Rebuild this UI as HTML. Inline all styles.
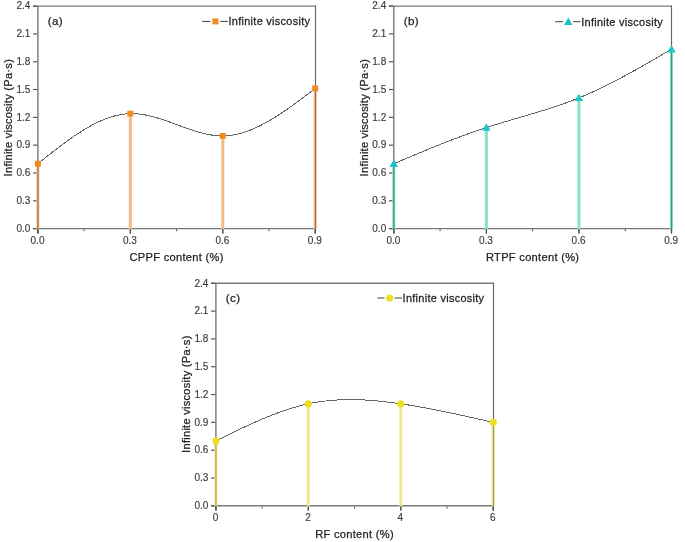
<!DOCTYPE html>
<html><head><meta charset="utf-8"><style>
html,body{margin:0;padding:0;background:#fff;}
body{width:685px;height:542px;overflow:hidden;font-family:"Liberation Sans",sans-serif;}
svg{display:block;}
#w{width:685px;height:542px;will-change:transform;}
</style></head><body><div id="w">
<svg width="685" height="542" viewBox="0 0 685 542" font-family="Liberation Sans, sans-serif"><g><path d="M32.90,6.10 H316.00 M37.90,6.10 V233.40 M32.90,228.60 H315.50" fill="none" stroke="#7a7a7a" stroke-width="1.4"/><path d="M315.50,5.50 V233.40" fill="none" stroke="#666" stroke-width="1.15"/><line x1="33.10" y1="228.60" x2="37.30" y2="228.60" stroke="#555" stroke-width="1.2"/><text transform="translate(30.30,231.90) scale(1.0000,1)" text-anchor="end" font-size="10" fill="#3a3a3a" stroke="#3a3a3a" stroke-width="0.15" >0.0</text><line x1="33.10" y1="200.79" x2="37.30" y2="200.79" stroke="#555" stroke-width="1.2"/><text transform="translate(30.30,204.09) scale(1.0000,1)" text-anchor="end" font-size="10" fill="#3a3a3a" stroke="#3a3a3a" stroke-width="0.15" >0.3</text><line x1="33.10" y1="172.97" x2="37.30" y2="172.97" stroke="#555" stroke-width="1.2"/><text transform="translate(30.30,176.28) scale(1.0000,1)" text-anchor="end" font-size="10" fill="#3a3a3a" stroke="#3a3a3a" stroke-width="0.15" >0.6</text><line x1="33.10" y1="145.16" x2="37.30" y2="145.16" stroke="#555" stroke-width="1.2"/><text transform="translate(30.30,148.46) scale(1.0000,1)" text-anchor="end" font-size="10" fill="#3a3a3a" stroke="#3a3a3a" stroke-width="0.15" >0.9</text><line x1="33.10" y1="117.35" x2="37.30" y2="117.35" stroke="#555" stroke-width="1.2"/><text transform="translate(30.30,120.65) scale(1.0000,1)" text-anchor="end" font-size="10" fill="#3a3a3a" stroke="#3a3a3a" stroke-width="0.15" >1.2</text><line x1="33.10" y1="89.54" x2="37.30" y2="89.54" stroke="#555" stroke-width="1.2"/><text transform="translate(30.30,92.84) scale(1.0000,1)" text-anchor="end" font-size="10" fill="#3a3a3a" stroke="#3a3a3a" stroke-width="0.15" >1.5</text><line x1="33.10" y1="61.72" x2="37.30" y2="61.72" stroke="#555" stroke-width="1.2"/><text transform="translate(30.30,65.02) scale(1.0000,1)" text-anchor="end" font-size="10" fill="#3a3a3a" stroke="#3a3a3a" stroke-width="0.15" >1.8</text><line x1="33.10" y1="33.91" x2="37.30" y2="33.91" stroke="#555" stroke-width="1.2"/><text transform="translate(30.30,37.21) scale(1.0000,1)" text-anchor="end" font-size="10" fill="#3a3a3a" stroke="#3a3a3a" stroke-width="0.15" >2.1</text><line x1="33.10" y1="6.10" x2="37.30" y2="6.10" stroke="#555" stroke-width="1.2"/><text transform="translate(30.30,9.40) scale(1.0000,1)" text-anchor="end" font-size="10" fill="#3a3a3a" stroke="#3a3a3a" stroke-width="0.15" >2.4</text><line x1="37.90" y1="229.20" x2="37.90" y2="233.40" stroke="#555" stroke-width="1.2"/><line x1="84.12" y1="229.20" x2="84.12" y2="231.30" stroke="#555" stroke-width="1.1"/><text transform="translate(37.50,244.00) scale(1.0000,1)" text-anchor="middle" font-size="10" fill="#3a3a3a" stroke="#3a3a3a" stroke-width="0.15" >0.0</text><line x1="130.33" y1="229.20" x2="130.33" y2="233.40" stroke="#555" stroke-width="1.2"/><line x1="176.55" y1="229.20" x2="176.55" y2="231.30" stroke="#555" stroke-width="1.1"/><text transform="translate(129.93,244.00) scale(1.0000,1)" text-anchor="middle" font-size="10" fill="#3a3a3a" stroke="#3a3a3a" stroke-width="0.15" >0.3</text><line x1="222.77" y1="229.20" x2="222.77" y2="233.40" stroke="#555" stroke-width="1.2"/><line x1="268.98" y1="229.20" x2="268.98" y2="231.30" stroke="#555" stroke-width="1.1"/><text transform="translate(222.37,244.00) scale(1.0000,1)" text-anchor="middle" font-size="10" fill="#3a3a3a" stroke="#3a3a3a" stroke-width="0.15" >0.6</text><line x1="315.20" y1="229.20" x2="315.20" y2="233.40" stroke="#555" stroke-width="1.2"/><text transform="translate(314.80,244.00) scale(1.0000,1)" text-anchor="middle" font-size="10" fill="#3a3a3a" stroke="#3a3a3a" stroke-width="0.15" >0.9</text><line x1="37.90" y1="163.70" x2="37.90" y2="229.10" stroke="#f2bc8a" stroke-width="3.0"/><line x1="130.33" y1="113.64" x2="130.33" y2="229.10" stroke="#f2bc8a" stroke-width="3.0"/><line x1="222.77" y1="135.89" x2="222.77" y2="229.10" stroke="#f2bc8a" stroke-width="3.0"/><line x1="315.20" y1="88.33" x2="315.20" y2="229.10" stroke="#f2bc8a" stroke-width="3.0"/><line x1="37.90" y1="163.70" x2="37.90" y2="229.30" stroke="#b67d4e" stroke-width="1.4"/><line x1="315.50" y1="88.33" x2="315.50" y2="229.20" stroke="#a87048" stroke-width="1.15"/><line x1="37.90" y1="229.30" x2="37.90" y2="233.40" stroke="#555" stroke-width="1.2"/><line x1="130.33" y1="229.30" x2="130.33" y2="233.40" stroke="#555" stroke-width="1.2"/><line x1="222.77" y1="229.30" x2="222.77" y2="233.40" stroke="#555" stroke-width="1.2"/><line x1="315.20" y1="229.30" x2="315.20" y2="233.40" stroke="#555" stroke-width="1.2"/><path d="M37.90,163.70 L39.29,162.59 L40.69,161.47 L42.08,160.36 L43.47,159.25 L44.87,158.14 L46.26,157.03 L47.65,155.92 L49.05,154.82 L50.44,153.72 L51.83,152.63 L53.23,151.54 L54.62,150.46 L56.02,149.38 L57.41,148.31 L58.80,147.25 L60.20,146.19 L61.59,145.14 L62.98,144.10 L64.38,143.07 L65.77,142.05 L67.16,141.04 L68.56,140.03 L69.95,139.04 L71.34,138.06 L72.74,137.10 L74.13,136.14 L75.52,135.20 L76.92,134.27 L78.31,133.35 L79.70,132.45 L81.10,131.56 L82.49,130.69 L83.88,129.84 L85.28,129.00 L86.67,128.18 L88.06,127.37 L89.46,126.58 L90.85,125.81 L92.25,125.06 L93.64,124.33 L95.03,123.62 L96.43,122.93 L97.82,122.26 L99.21,121.61 L100.61,120.98 L102.00,120.37 L103.39,119.79 L104.79,119.23 L106.18,118.69 L107.57,118.18 L108.97,117.69 L110.36,117.23 L111.75,116.79 L113.15,116.38 L114.54,115.99 L115.93,115.63 L117.33,115.30 L118.72,115.00 L120.11,114.73 L121.51,114.48 L122.90,114.27 L124.29,114.08 L125.69,113.93 L127.08,113.81 L128.48,113.71 L129.87,113.65 L131.26,113.63 L132.66,113.63 L134.05,113.67 L135.44,113.73 L136.84,113.83 L138.23,113.95 L139.62,114.10 L141.02,114.27 L142.41,114.48 L143.80,114.70 L145.20,114.95 L146.59,115.22 L147.98,115.51 L149.38,115.82 L150.77,116.16 L152.16,116.51 L153.56,116.87 L154.95,117.26 L156.34,117.66 L157.74,118.07 L159.13,118.50 L160.53,118.94 L161.92,119.39 L163.31,119.85 L164.71,120.32 L166.10,120.80 L167.49,121.29 L168.89,121.78 L170.28,122.28 L171.67,122.79 L173.07,123.30 L174.46,123.81 L175.85,124.32 L177.25,124.84 L178.64,125.35 L180.03,125.86 L181.43,126.37 L182.82,126.88 L184.21,127.38 L185.61,127.88 L187.00,128.37 L188.39,128.86 L189.79,129.34 L191.18,129.81 L192.57,130.27 L193.97,130.71 L195.36,131.15 L196.76,131.57 L198.15,131.98 L199.54,132.38 L200.94,132.76 L202.33,133.12 L203.72,133.46 L205.12,133.79 L206.51,134.10 L207.90,134.38 L209.30,134.65 L210.69,134.89 L212.08,135.10 L213.48,135.30 L214.87,135.47 L216.26,135.61 L217.66,135.72 L219.05,135.81 L220.44,135.87 L221.84,135.89 L223.23,135.89 L224.62,135.85 L226.02,135.78 L227.41,135.68 L228.81,135.55 L230.20,135.39 L231.59,135.21 L232.99,134.99 L234.38,134.74 L235.77,134.47 L237.17,134.17 L238.56,133.84 L239.95,133.48 L241.35,133.10 L242.74,132.70 L244.13,132.27 L245.53,131.81 L246.92,131.33 L248.31,130.83 L249.71,130.30 L251.10,129.75 L252.49,129.18 L253.89,128.59 L255.28,127.97 L256.67,127.34 L258.07,126.68 L259.46,126.00 L260.85,125.31 L262.25,124.60 L263.64,123.87 L265.04,123.12 L266.43,122.35 L267.82,121.57 L269.22,120.77 L270.61,119.95 L272.00,119.12 L273.40,118.27 L274.79,117.41 L276.18,116.54 L277.58,115.65 L278.97,114.75 L280.36,113.83 L281.76,112.91 L283.15,111.97 L284.54,111.02 L285.94,110.06 L287.33,109.10 L288.72,108.12 L290.12,107.13 L291.51,106.13 L292.90,105.13 L294.30,104.12 L295.69,103.10 L297.08,102.07 L298.48,101.04 L299.87,100.00 L301.27,98.95 L302.66,97.91 L304.05,96.85 L305.45,95.80 L306.84,94.74 L308.23,93.67 L309.63,92.61 L311.02,91.54 L312.41,90.47 L313.81,89.40 L315.20,88.33" fill="none" stroke="#666" stroke-width="1.0" shape-rendering="crispEdges"/><rect x="34.90" y="160.75" width="6.00" height="5.90" fill="#f28a24"/><rect x="127.33" y="110.69" width="6.00" height="5.90" fill="#f28a24"/><rect x="219.77" y="132.94" width="6.00" height="5.90" fill="#f28a24"/><rect x="312.20" y="85.38" width="6.00" height="5.90" fill="#f28a24"/><text transform="translate(47.80,25.05) scale(1.0000,1)" text-anchor="start" font-size="11.6" fill="#222" stroke="#222" stroke-width="0.25" letter-spacing="0.35" >(a)</text><line x1="202.20" y1="21.45" x2="210.30" y2="21.45" stroke="#555" stroke-width="1.1"/><line x1="220.30" y1="21.45" x2="227.90" y2="21.45" stroke="#555" stroke-width="1.1"/><rect x="212.50" y="18.50" width="6.00" height="5.90" fill="#f28a24"/><text transform="translate(228.50,25.35) scale(0.9850,1)" text-anchor="start" font-size="11.1" fill="#222" stroke="#222" stroke-width="0.25" letter-spacing="0.3" >Infinite viscosity</text><text transform="translate(176.55,261.40) scale(1.0000,1)" text-anchor="middle" font-size="11.1" fill="#222" stroke="#222" stroke-width="0.25" letter-spacing="0.3" >CPPF content (%)</text><text transform="translate(11.90,117.65) rotate(-90) scale(1.0000,1)" text-anchor="middle" font-size="11.1" fill="#222" stroke="#222" stroke-width="0.25" letter-spacing="0.26">Infinite viscosity (Pa·s)</text></g>
<g><path d="M388.80,6.10 H672.00 M393.80,6.10 V233.40 M388.80,228.60 H671.50" fill="none" stroke="#7a7a7a" stroke-width="1.4"/><path d="M671.50,5.50 V233.40" fill="none" stroke="#666" stroke-width="1.15"/><line x1="389.00" y1="228.60" x2="393.20" y2="228.60" stroke="#555" stroke-width="1.2"/><text transform="translate(386.20,231.90) scale(1.0000,1)" text-anchor="end" font-size="10" fill="#3a3a3a" stroke="#3a3a3a" stroke-width="0.15" >0.0</text><line x1="389.00" y1="200.79" x2="393.20" y2="200.79" stroke="#555" stroke-width="1.2"/><text transform="translate(386.20,204.09) scale(1.0000,1)" text-anchor="end" font-size="10" fill="#3a3a3a" stroke="#3a3a3a" stroke-width="0.15" >0.3</text><line x1="389.00" y1="172.97" x2="393.20" y2="172.97" stroke="#555" stroke-width="1.2"/><text transform="translate(386.20,176.28) scale(1.0000,1)" text-anchor="end" font-size="10" fill="#3a3a3a" stroke="#3a3a3a" stroke-width="0.15" >0.6</text><line x1="389.00" y1="145.16" x2="393.20" y2="145.16" stroke="#555" stroke-width="1.2"/><text transform="translate(386.20,148.46) scale(1.0000,1)" text-anchor="end" font-size="10" fill="#3a3a3a" stroke="#3a3a3a" stroke-width="0.15" >0.9</text><line x1="389.00" y1="117.35" x2="393.20" y2="117.35" stroke="#555" stroke-width="1.2"/><text transform="translate(386.20,120.65) scale(1.0000,1)" text-anchor="end" font-size="10" fill="#3a3a3a" stroke="#3a3a3a" stroke-width="0.15" >1.2</text><line x1="389.00" y1="89.54" x2="393.20" y2="89.54" stroke="#555" stroke-width="1.2"/><text transform="translate(386.20,92.84) scale(1.0000,1)" text-anchor="end" font-size="10" fill="#3a3a3a" stroke="#3a3a3a" stroke-width="0.15" >1.5</text><line x1="389.00" y1="61.72" x2="393.20" y2="61.72" stroke="#555" stroke-width="1.2"/><text transform="translate(386.20,65.02) scale(1.0000,1)" text-anchor="end" font-size="10" fill="#3a3a3a" stroke="#3a3a3a" stroke-width="0.15" >1.8</text><line x1="389.00" y1="33.91" x2="393.20" y2="33.91" stroke="#555" stroke-width="1.2"/><text transform="translate(386.20,37.21) scale(1.0000,1)" text-anchor="end" font-size="10" fill="#3a3a3a" stroke="#3a3a3a" stroke-width="0.15" >2.1</text><line x1="389.00" y1="6.10" x2="393.20" y2="6.10" stroke="#555" stroke-width="1.2"/><text transform="translate(386.20,9.40) scale(1.0000,1)" text-anchor="end" font-size="10" fill="#3a3a3a" stroke="#3a3a3a" stroke-width="0.15" >2.4</text><line x1="393.80" y1="229.20" x2="393.80" y2="233.40" stroke="#555" stroke-width="1.2"/><line x1="440.08" y1="229.20" x2="440.08" y2="231.30" stroke="#555" stroke-width="1.1"/><text transform="translate(393.40,244.00) scale(1.0000,1)" text-anchor="middle" font-size="10" fill="#3a3a3a" stroke="#3a3a3a" stroke-width="0.15" >0.0</text><line x1="486.37" y1="229.20" x2="486.37" y2="233.40" stroke="#555" stroke-width="1.2"/><line x1="532.65" y1="229.20" x2="532.65" y2="231.30" stroke="#555" stroke-width="1.1"/><text transform="translate(485.97,244.00) scale(1.0000,1)" text-anchor="middle" font-size="10" fill="#3a3a3a" stroke="#3a3a3a" stroke-width="0.15" >0.3</text><line x1="578.93" y1="229.20" x2="578.93" y2="233.40" stroke="#555" stroke-width="1.2"/><line x1="625.22" y1="229.20" x2="625.22" y2="231.30" stroke="#555" stroke-width="1.1"/><text transform="translate(578.53,244.00) scale(1.0000,1)" text-anchor="middle" font-size="10" fill="#3a3a3a" stroke="#3a3a3a" stroke-width="0.15" >0.6</text><line x1="671.50" y1="229.20" x2="671.50" y2="233.40" stroke="#555" stroke-width="1.2"/><text transform="translate(671.10,244.00) scale(1.0000,1)" text-anchor="middle" font-size="10" fill="#3a3a3a" stroke="#3a3a3a" stroke-width="0.15" >0.9</text><line x1="393.80" y1="163.70" x2="393.80" y2="229.10" stroke="#80e4c4" stroke-width="3.0"/><line x1="486.37" y1="127.55" x2="486.37" y2="229.10" stroke="#80e4c4" stroke-width="3.0"/><line x1="578.93" y1="97.88" x2="578.93" y2="229.10" stroke="#80e4c4" stroke-width="3.0"/><line x1="671.50" y1="49.21" x2="671.50" y2="229.10" stroke="#80e4c4" stroke-width="3.0"/><line x1="393.80" y1="163.70" x2="393.80" y2="229.30" stroke="#3ba57a" stroke-width="1.4"/><line x1="671.50" y1="49.21" x2="671.50" y2="229.20" stroke="#3a9a78" stroke-width="1.15"/><line x1="393.80" y1="229.30" x2="393.80" y2="233.40" stroke="#555" stroke-width="1.2"/><line x1="486.37" y1="229.30" x2="486.37" y2="233.40" stroke="#555" stroke-width="1.2"/><line x1="578.93" y1="229.30" x2="578.93" y2="233.40" stroke="#555" stroke-width="1.2"/><line x1="671.50" y1="229.30" x2="671.50" y2="233.40" stroke="#555" stroke-width="1.2"/><path d="M393.80,163.70 L395.20,163.11 L396.59,162.52 L397.99,161.93 L399.38,161.34 L400.78,160.75 L402.17,160.16 L403.57,159.58 L404.96,158.99 L406.36,158.40 L407.75,157.81 L409.15,157.22 L410.55,156.64 L411.94,156.05 L413.34,155.47 L414.73,154.88 L416.13,154.30 L417.52,153.72 L418.92,153.14 L420.31,152.56 L421.71,151.98 L423.11,151.40 L424.50,150.83 L425.90,150.25 L427.29,149.68 L428.69,149.11 L430.08,148.54 L431.48,147.97 L432.87,147.40 L434.27,146.84 L435.66,146.27 L437.06,145.71 L438.46,145.15 L439.85,144.59 L441.25,144.04 L442.64,143.49 L444.04,142.93 L445.43,142.38 L446.83,141.84 L448.22,141.29 L449.62,140.75 L451.01,140.21 L452.41,139.67 L453.81,139.14 L455.20,138.61 L456.60,138.08 L457.99,137.55 L459.39,137.03 L460.78,136.51 L462.18,135.99 L463.57,135.47 L464.97,134.96 L466.36,134.45 L467.76,133.95 L469.16,133.45 L470.55,132.95 L471.95,132.45 L473.34,131.96 L474.74,131.47 L476.13,130.99 L477.53,130.51 L478.92,130.03 L480.32,129.56 L481.72,129.09 L483.11,128.62 L484.51,128.16 L485.90,127.70 L487.30,127.25 L488.69,126.80 L490.09,126.35 L491.48,125.91 L492.88,125.47 L494.27,125.03 L495.67,124.60 L497.07,124.17 L498.46,123.74 L499.86,123.32 L501.25,122.90 L502.65,122.48 L504.04,122.06 L505.44,121.64 L506.83,121.23 L508.23,120.81 L509.62,120.40 L511.02,119.99 L512.42,119.58 L513.81,119.17 L515.21,118.77 L516.60,118.36 L518.00,117.95 L519.39,117.55 L520.79,117.14 L522.18,116.73 L523.58,116.32 L524.97,115.92 L526.37,115.51 L527.77,115.10 L529.16,114.69 L530.56,114.27 L531.95,113.86 L533.35,113.45 L534.74,113.03 L536.14,112.61 L537.53,112.19 L538.93,111.76 L540.33,111.34 L541.72,110.91 L543.12,110.48 L544.51,110.04 L545.91,109.61 L547.30,109.17 L548.70,108.72 L550.09,108.27 L551.49,107.82 L552.88,107.36 L554.28,106.90 L555.68,106.44 L557.07,105.97 L558.47,105.50 L559.86,105.02 L561.26,104.53 L562.65,104.04 L564.05,103.55 L565.44,103.05 L566.84,102.54 L568.23,102.03 L569.63,101.51 L571.03,100.98 L572.42,100.45 L573.82,99.91 L575.21,99.37 L576.61,98.82 L578.00,98.26 L579.40,97.69 L580.79,97.12 L582.19,96.54 L583.58,95.95 L584.98,95.35 L586.38,94.75 L587.77,94.14 L589.17,93.52 L590.56,92.90 L591.96,92.27 L593.35,91.63 L594.75,90.99 L596.14,90.34 L597.54,89.69 L598.94,89.03 L600.33,88.36 L601.73,87.69 L603.12,87.01 L604.52,86.33 L605.91,85.64 L607.31,84.94 L608.70,84.24 L610.10,83.54 L611.49,82.83 L612.89,82.11 L614.29,81.39 L615.68,80.67 L617.08,79.94 L618.47,79.21 L619.87,78.47 L621.26,77.73 L622.66,76.98 L624.05,76.24 L625.45,75.48 L626.84,74.73 L628.24,73.96 L629.64,73.20 L631.03,72.43 L632.43,71.66 L633.82,70.89 L635.22,70.11 L636.61,69.33 L638.01,68.55 L639.40,67.76 L640.80,66.98 L642.19,66.18 L643.59,65.39 L644.99,64.60 L646.38,63.80 L647.78,63.00 L649.17,62.20 L650.57,61.40 L651.96,60.59 L653.36,59.78 L654.75,58.98 L656.15,58.17 L657.55,57.36 L658.94,56.55 L660.34,55.73 L661.73,54.92 L663.13,54.11 L664.52,53.29 L665.92,52.47 L667.31,51.66 L668.71,50.84 L670.10,50.03 L671.50,49.21" fill="none" stroke="#666" stroke-width="1.0" shape-rendering="crispEdges"/><path d="M393.80,159.50 L398.00,166.90 L389.60,166.90 Z" fill="#1cc4c4"/><path d="M486.37,123.35 L490.57,130.75 L482.17,130.75 Z" fill="#1cc4c4"/><path d="M578.93,93.68 L583.13,101.08 L574.73,101.08 Z" fill="#1cc4c4"/><path d="M671.50,45.01 L675.70,52.41 L667.30,52.41 Z" fill="#1cc4c4"/><text transform="translate(403.70,25.05) scale(1.0000,1)" text-anchor="start" font-size="11.6" fill="#222" stroke="#222" stroke-width="0.25" letter-spacing="0.35" >(b)</text><line x1="555.00" y1="21.70" x2="563.10" y2="21.70" stroke="#555" stroke-width="1.1"/><line x1="573.10" y1="21.70" x2="580.60" y2="21.70" stroke="#555" stroke-width="1.1"/><path d="M568.30,17.50 L572.50,24.90 L564.10,24.90 Z" fill="#1cc4c4"/><text transform="translate(581.20,25.60) scale(0.9850,1)" text-anchor="start" font-size="11.1" fill="#222" stroke="#222" stroke-width="0.25" letter-spacing="0.3" >Infinite viscosity</text><text transform="translate(532.65,261.40) scale(1.0000,1)" text-anchor="middle" font-size="11.1" fill="#222" stroke="#222" stroke-width="0.25" letter-spacing="0.3" >RTPF content (%)</text><text transform="translate(367.80,117.65) rotate(-90) scale(1.0000,1)" text-anchor="middle" font-size="11.1" fill="#222" stroke="#222" stroke-width="0.25" letter-spacing="0.26">Infinite viscosity (Pa·s)</text></g>
<g><path d="M210.90,283.30 H494.00 M215.90,283.30 V510.60 M210.90,505.80 H493.50" fill="none" stroke="#7a7a7a" stroke-width="1.4"/><path d="M493.50,282.70 V510.60" fill="none" stroke="#666" stroke-width="1.15"/><line x1="211.10" y1="505.80" x2="215.30" y2="505.80" stroke="#555" stroke-width="1.2"/><text transform="translate(208.30,509.10) scale(1.0000,1)" text-anchor="end" font-size="10" fill="#3a3a3a" stroke="#3a3a3a" stroke-width="0.15" >0.0</text><line x1="211.10" y1="477.99" x2="215.30" y2="477.99" stroke="#555" stroke-width="1.2"/><text transform="translate(208.30,481.29) scale(1.0000,1)" text-anchor="end" font-size="10" fill="#3a3a3a" stroke="#3a3a3a" stroke-width="0.15" >0.3</text><line x1="211.10" y1="450.18" x2="215.30" y2="450.18" stroke="#555" stroke-width="1.2"/><text transform="translate(208.30,453.48) scale(1.0000,1)" text-anchor="end" font-size="10" fill="#3a3a3a" stroke="#3a3a3a" stroke-width="0.15" >0.6</text><line x1="211.10" y1="422.36" x2="215.30" y2="422.36" stroke="#555" stroke-width="1.2"/><text transform="translate(208.30,425.66) scale(1.0000,1)" text-anchor="end" font-size="10" fill="#3a3a3a" stroke="#3a3a3a" stroke-width="0.15" >0.9</text><line x1="211.10" y1="394.55" x2="215.30" y2="394.55" stroke="#555" stroke-width="1.2"/><text transform="translate(208.30,397.85) scale(1.0000,1)" text-anchor="end" font-size="10" fill="#3a3a3a" stroke="#3a3a3a" stroke-width="0.15" >1.2</text><line x1="211.10" y1="366.74" x2="215.30" y2="366.74" stroke="#555" stroke-width="1.2"/><text transform="translate(208.30,370.04) scale(1.0000,1)" text-anchor="end" font-size="10" fill="#3a3a3a" stroke="#3a3a3a" stroke-width="0.15" >1.5</text><line x1="211.10" y1="338.93" x2="215.30" y2="338.93" stroke="#555" stroke-width="1.2"/><text transform="translate(208.30,342.23) scale(1.0000,1)" text-anchor="end" font-size="10" fill="#3a3a3a" stroke="#3a3a3a" stroke-width="0.15" >1.8</text><line x1="211.10" y1="311.11" x2="215.30" y2="311.11" stroke="#555" stroke-width="1.2"/><text transform="translate(208.30,314.41) scale(1.0000,1)" text-anchor="end" font-size="10" fill="#3a3a3a" stroke="#3a3a3a" stroke-width="0.15" >2.1</text><line x1="211.10" y1="283.30" x2="215.30" y2="283.30" stroke="#555" stroke-width="1.2"/><text transform="translate(208.30,286.60) scale(1.0000,1)" text-anchor="end" font-size="10" fill="#3a3a3a" stroke="#3a3a3a" stroke-width="0.15" >2.4</text><line x1="215.90" y1="506.40" x2="215.90" y2="510.60" stroke="#555" stroke-width="1.2"/><line x1="262.12" y1="506.40" x2="262.12" y2="508.50" stroke="#555" stroke-width="1.1"/><text transform="translate(215.50,521.20) scale(1.0000,1)" text-anchor="middle" font-size="10" fill="#3a3a3a" stroke="#3a3a3a" stroke-width="0.15" >0</text><line x1="308.33" y1="506.40" x2="308.33" y2="510.60" stroke="#555" stroke-width="1.2"/><line x1="354.55" y1="506.40" x2="354.55" y2="508.50" stroke="#555" stroke-width="1.1"/><text transform="translate(307.93,521.20) scale(1.0000,1)" text-anchor="middle" font-size="10" fill="#3a3a3a" stroke="#3a3a3a" stroke-width="0.15" >2</text><line x1="400.77" y1="506.40" x2="400.77" y2="510.60" stroke="#555" stroke-width="1.2"/><line x1="446.98" y1="506.40" x2="446.98" y2="508.50" stroke="#555" stroke-width="1.1"/><text transform="translate(400.37,521.20) scale(1.0000,1)" text-anchor="middle" font-size="10" fill="#3a3a3a" stroke="#3a3a3a" stroke-width="0.15" >4</text><line x1="493.20" y1="506.40" x2="493.20" y2="510.60" stroke="#555" stroke-width="1.2"/><text transform="translate(492.80,521.20) scale(1.0000,1)" text-anchor="middle" font-size="10" fill="#3a3a3a" stroke="#3a3a3a" stroke-width="0.15" >6</text><line x1="215.90" y1="440.90" x2="215.90" y2="506.30" stroke="#ede88e" stroke-width="3.0"/><line x1="308.33" y1="403.82" x2="308.33" y2="506.30" stroke="#ede88e" stroke-width="3.0"/><line x1="400.77" y1="403.82" x2="400.77" y2="506.30" stroke="#ede88e" stroke-width="3.0"/><line x1="493.20" y1="422.36" x2="493.20" y2="506.30" stroke="#ede88e" stroke-width="3.0"/><line x1="215.90" y1="440.90" x2="215.90" y2="506.50" stroke="#b8af63" stroke-width="1.4"/><line x1="493.50" y1="422.36" x2="493.50" y2="506.40" stroke="#a0a050" stroke-width="1.15"/><line x1="215.90" y1="506.50" x2="215.90" y2="510.60" stroke="#555" stroke-width="1.2"/><line x1="308.33" y1="506.50" x2="308.33" y2="510.60" stroke="#555" stroke-width="1.2"/><line x1="400.77" y1="506.50" x2="400.77" y2="510.60" stroke="#555" stroke-width="1.2"/><line x1="493.20" y1="506.50" x2="493.20" y2="510.60" stroke="#555" stroke-width="1.2"/><path d="M215.90,440.90 L217.29,440.21 L218.69,439.53 L220.08,438.84 L221.47,438.15 L222.87,437.46 L224.26,436.77 L225.65,436.09 L227.05,435.40 L228.44,434.72 L229.83,434.04 L231.23,433.36 L232.62,432.68 L234.02,432.01 L235.41,431.33 L236.80,430.66 L238.20,429.99 L239.59,429.33 L240.98,428.67 L242.38,428.01 L243.77,427.35 L245.16,426.70 L246.56,426.05 L247.95,425.41 L249.34,424.77 L250.74,424.13 L252.13,423.50 L253.52,422.87 L254.92,422.25 L256.31,421.63 L257.70,421.02 L259.10,420.41 L260.49,419.81 L261.88,419.22 L263.28,418.63 L264.67,418.04 L266.06,417.47 L267.46,416.89 L268.85,416.33 L270.25,415.77 L271.64,415.22 L273.03,414.68 L274.43,414.14 L275.82,413.61 L277.21,413.09 L278.61,412.58 L280.00,412.07 L281.39,411.58 L282.79,411.09 L284.18,410.61 L285.57,410.14 L286.97,409.67 L288.36,409.22 L289.75,408.77 L291.15,408.34 L292.54,407.91 L293.93,407.50 L295.33,407.09 L296.72,406.70 L298.11,406.31 L299.51,405.94 L300.90,405.57 L302.29,405.22 L303.69,404.88 L305.08,404.55 L306.48,404.23 L307.87,403.92 L309.26,403.62 L310.66,403.34 L312.05,403.07 L313.44,402.81 L314.84,402.56 L316.23,402.32 L317.62,402.09 L319.02,401.87 L320.41,401.67 L321.80,401.47 L323.20,401.29 L324.59,401.11 L325.98,400.95 L327.38,400.79 L328.77,400.65 L330.16,400.52 L331.56,400.39 L332.95,400.28 L334.34,400.17 L335.74,400.08 L337.13,399.99 L338.53,399.91 L339.92,399.85 L341.31,399.79 L342.71,399.74 L344.10,399.70 L345.49,399.66 L346.89,399.64 L348.28,399.62 L349.67,399.61 L351.07,399.61 L352.46,399.62 L353.85,399.64 L355.25,399.66 L356.64,399.69 L358.03,399.73 L359.43,399.78 L360.82,399.83 L362.21,399.89 L363.61,399.95 L365.00,400.03 L366.39,400.11 L367.79,400.19 L369.18,400.29 L370.57,400.39 L371.97,400.49 L373.36,400.60 L374.76,400.72 L376.15,400.84 L377.54,400.97 L378.94,401.10 L380.33,401.24 L381.72,401.39 L383.12,401.54 L384.51,401.69 L385.90,401.85 L387.30,402.02 L388.69,402.18 L390.08,402.36 L391.48,402.54 L392.87,402.72 L394.26,402.90 L395.66,403.09 L397.05,403.29 L398.44,403.48 L399.84,403.68 L401.23,403.89 L402.62,404.10 L404.02,404.31 L405.41,404.52 L406.81,404.74 L408.20,404.96 L409.59,405.18 L410.99,405.41 L412.38,405.64 L413.77,405.87 L415.17,406.11 L416.56,406.35 L417.95,406.59 L419.35,406.83 L420.74,407.08 L422.13,407.33 L423.53,407.58 L424.92,407.84 L426.31,408.09 L427.71,408.35 L429.10,408.61 L430.49,408.88 L431.89,409.15 L433.28,409.41 L434.67,409.68 L436.07,409.96 L437.46,410.23 L438.85,410.51 L440.25,410.79 L441.64,411.07 L443.04,411.35 L444.43,411.64 L445.82,411.92 L447.22,412.21 L448.61,412.50 L450.00,412.79 L451.40,413.09 L452.79,413.38 L454.18,413.68 L455.58,413.98 L456.97,414.27 L458.36,414.58 L459.76,414.88 L461.15,415.18 L462.54,415.48 L463.94,415.79 L465.33,416.09 L466.72,416.40 L468.12,416.71 L469.51,417.02 L470.90,417.33 L472.30,417.64 L473.69,417.95 L475.08,418.26 L476.48,418.58 L477.87,418.89 L479.27,419.20 L480.66,419.52 L482.05,419.83 L483.45,420.15 L484.84,420.46 L486.23,420.78 L487.63,421.10 L489.02,421.41 L490.41,421.73 L491.81,422.05 L493.20,422.36" fill="none" stroke="#666" stroke-width="1.0" shape-rendering="crispEdges"/><circle cx="215.90" cy="440.90" r="3.60" fill="#eedd22"/><circle cx="308.33" cy="403.82" r="3.60" fill="#eedd22"/><circle cx="400.77" cy="403.82" r="3.60" fill="#eedd22"/><circle cx="493.20" cy="422.36" r="3.60" fill="#eedd22"/><text transform="translate(225.80,302.25) scale(1.0000,1)" text-anchor="start" font-size="11.6" fill="#222" stroke="#222" stroke-width="0.25" letter-spacing="0.35" >(c)</text><line x1="377.30" y1="298.00" x2="384.50" y2="298.00" stroke="#555" stroke-width="1.1"/><line x1="394.50" y1="298.00" x2="402.00" y2="298.00" stroke="#555" stroke-width="1.1"/><circle cx="389.70" cy="298.00" r="3.60" fill="#eedd22"/><text transform="translate(402.60,301.90) scale(0.9850,1)" text-anchor="start" font-size="11.1" fill="#222" stroke="#222" stroke-width="0.25" letter-spacing="0.3" >Infinite viscosity</text><text transform="translate(354.55,538.00) scale(1.0000,1)" text-anchor="middle" font-size="11.1" fill="#222" stroke="#222" stroke-width="0.25" letter-spacing="0.3" >RF content (%)</text><text transform="translate(189.90,394.15) rotate(-90) scale(1.0000,1)" text-anchor="middle" font-size="11.1" fill="#222" stroke="#222" stroke-width="0.25" letter-spacing="0.26">Infinite viscosity (Pa·s)</text></g></svg>
</div></body></html>
